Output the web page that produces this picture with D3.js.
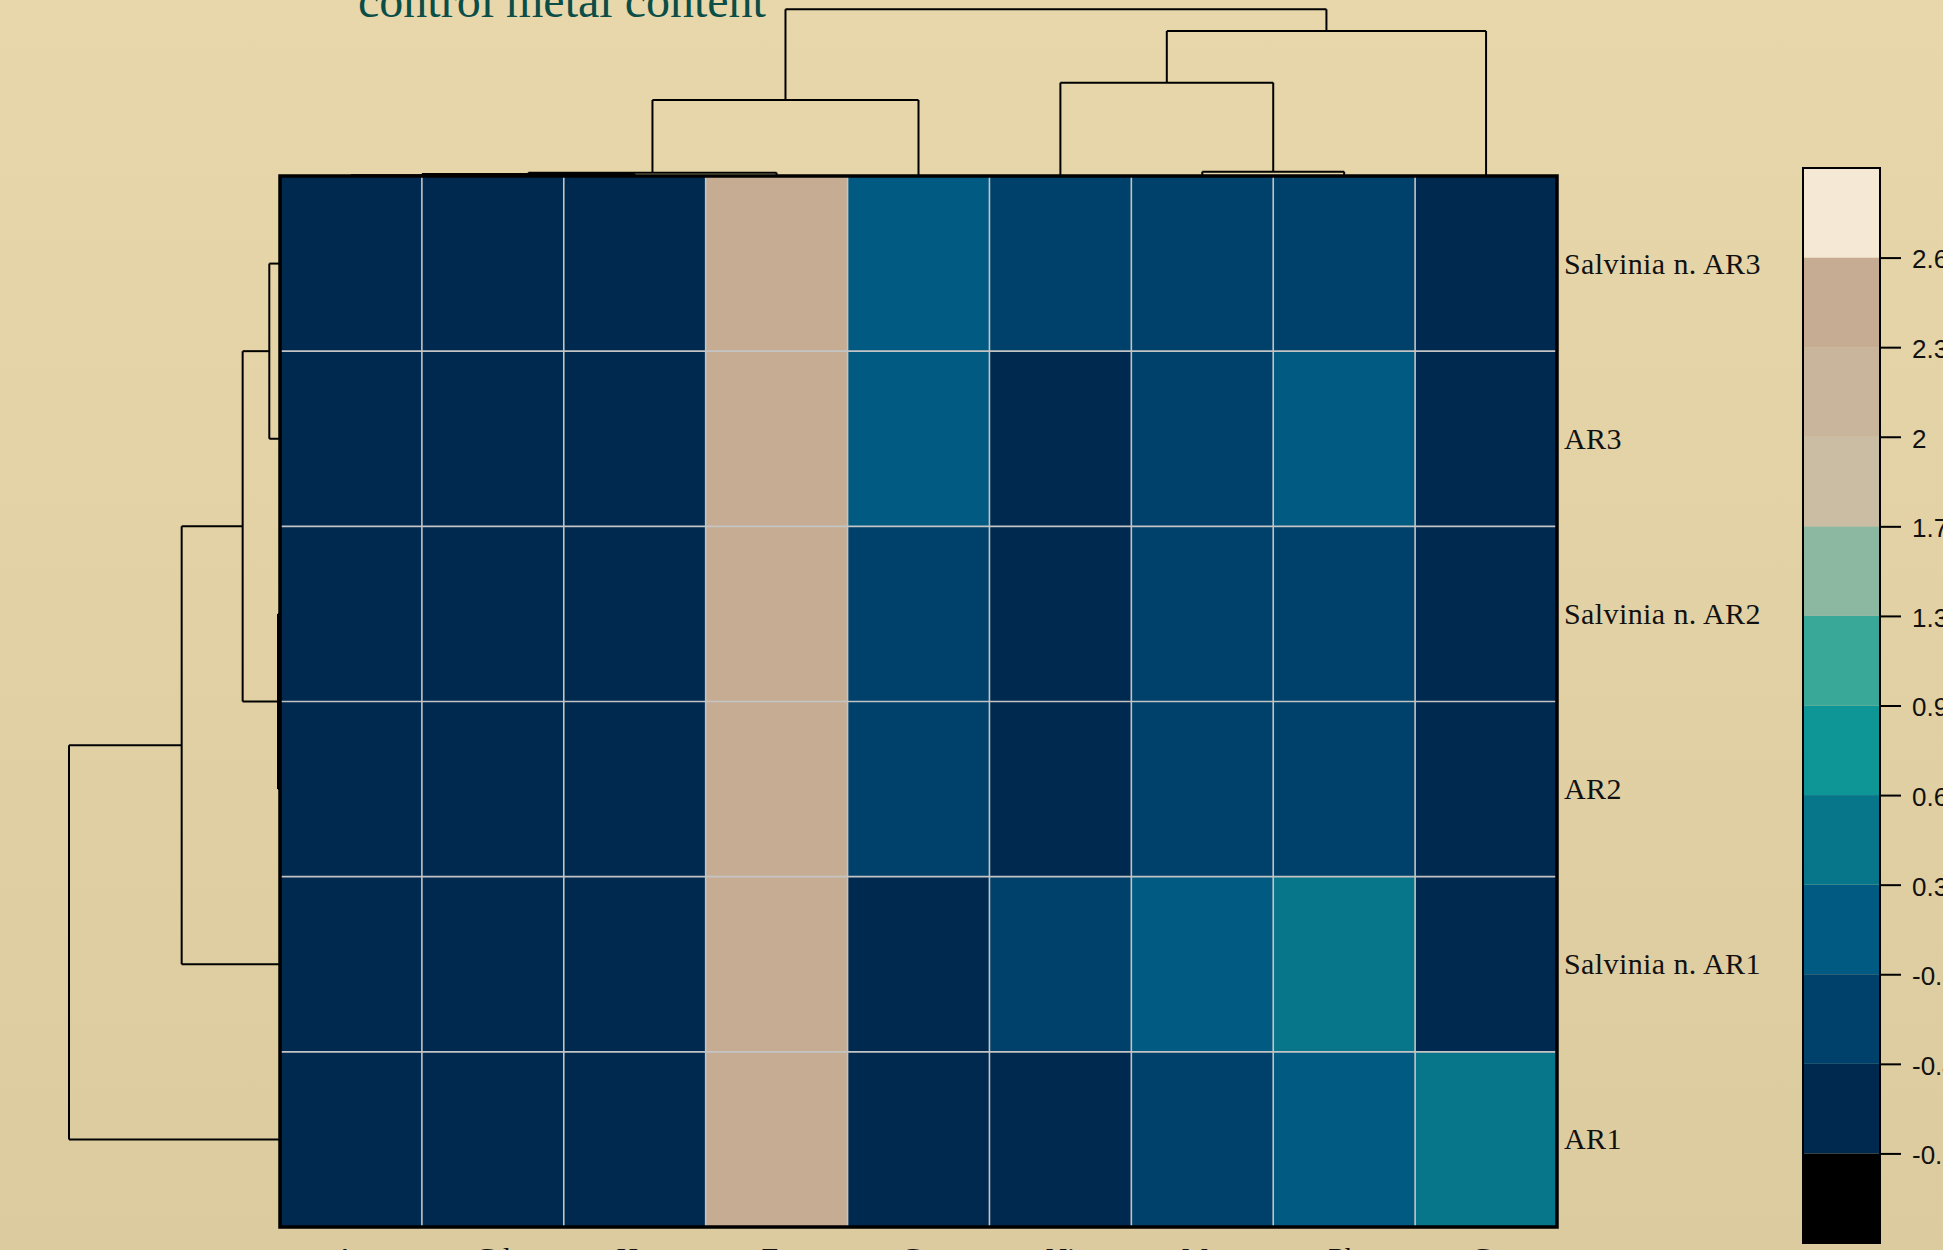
<!DOCTYPE html>
<html>
<head>
<meta charset="utf-8">
<script src="https://cdn.jsdelivr.net/npm/d3@7"></script>
<style>
  html, body { margin: 0; padding: 0; overflow: hidden; }
  svg { display: block; }
</style>
</head>
<body>
<svg id="chart" width="1943" height="1250"></svg>
<script>
// Samples (rows, top to bottom) and metals (columns, left to right)
const rowLabels = ["Salvinia n. AR3", "AR3", "Salvinia n. AR2", "AR2", "Salvinia n. AR1", "AR1"];
const colLabels = ["As", "Cd", "Hg", "Fe", "Cu", "Ni", "Mn", "Pb", "Cr"];

// Row-scaled metal content
const rowSalviniaAR3 = [-0.42, -0.43, -0.42, 2.55, -0.05, -0.30, -0.25, -0.28, -0.41];
const rowAR3         = [-0.42, -0.42, -0.42, 2.50,  0.00, -0.45, -0.30, -0.05, -0.42];
const rowSalviniaAR2 = [-0.43, -0.43, -0.42, 2.56, -0.25, -0.46, -0.30, -0.28, -0.42];
const rowAR2         = [-0.42, -0.42, -0.42, 2.55, -0.22, -0.46, -0.28, -0.27, -0.42];
const rowSalviniaAR1 = [-0.42, -0.43, -0.42, 2.45, -0.45, -0.30,  0.10,  0.45, -0.42];
const rowAR1         = [-0.42, -0.42, -0.42, 2.40, -0.44, -0.46, -0.25,  0.05,  0.42];
const matrix = [rowSalviniaAR3, rowAR3, rowSalviniaAR2, rowAR2, rowSalviniaAR1, rowAR1];

// Colour key: break points and their colours (low to high)
const keyBreaks = [-1.0, -0.7, -0.4, -0.1, 0.3, 0.6, 0.9, 1.3, 1.7, 2.0, 2.3, 2.6, 2.9];
const keyTickLabels = ["-0.7", "-0.4", "-0.1", "0.3", "0.6", "0.9", "1.3", "1.7", "2", "2.3", "2.6"];
const keyColors = ["#000000", "#00294f", "#00416b", "#005a82", "#08768a", "#0e9595",
                   "#3aa898", "#8cb7a1", "#cbbda3", "#c9b59b", "#c6ac93", "#f5e8d5"];

// Dendrogram merge heights (arbitrary distance units)
const rowTree = { h: 10, children: [
  { h: 4.66, children: [
    { h: 1.77, children: [
      { h: 0.507, children: [{ leaf: 0 }, { leaf: 1 }] },
      { h: 0.095, children: [{ leaf: 2 }, { leaf: 3 }] }
    ] },
    { leaf: 4 }
  ] },
  { leaf: 5 }
] };
const colTree = { h: 10, children: [
  { h: 4.56, children: [
    { h: 0.2, children: [
      { h: 0.12, children: [
        { h: 0.05, children: [{ leaf: 0 }, { leaf: 1 }] },
        { leaf: 2 }
      ] },
      { leaf: 3 }
    ] },
    { leaf: 4 }
  ] },
  { h: 8.7, children: [
    { h: 5.6, children: [
      { leaf: 5 },
      { h: 0.26, children: [{ leaf: 6 }, { leaf: 7 }] }
    ] },
    { leaf: 8 }
  ] }
] };

const svg = d3.select("#chart");
const W = 1943, H = 1250;

// Background
const defs = svg.append("defs");
const grad = defs.append("linearGradient").attr("id", "bg").attr("x1", 0).attr("y1", 0).attr("x2", 0).attr("y2", 1);
grad.append("stop").attr("offset", "0%").attr("stop-color", "#e7d7aa");
grad.append("stop").attr("offset", "100%").attr("stop-color", "#dccb9e");
svg.append("rect").attr("width", W).attr("height", H).attr("fill", "url(#bg)");

// Heatmap geometry
const hm = { left: 280, right: 1557, top: 176, bottom: 1227 };
const x = d3.scaleBand().domain(d3.range(colLabels.length)).range([hm.left, hm.right]).padding(0);
const y = d3.scaleBand().domain(d3.range(rowLabels.length)).range([hm.top, hm.bottom]).padding(0);
const color = d3.scaleThreshold().domain(keyBreaks.slice(1, -1)).range(keyColors);

const cells = [];
matrix.forEach((row, r) => row.forEach((v, c) => cells.push({ r, c, v })));

svg.append("g").selectAll("rect").data(cells).join("rect")
  .attr("x", d => x(d.c)).attr("y", d => y(d.r))
  .attr("width", x.bandwidth()).attr("height", y.bandwidth())
  .attr("fill", d => color(d.v));

// Grid lines between cells
const grid = svg.append("g").attr("stroke", "#c4c4c4").attr("stroke-width", 1.6);
d3.range(1, colLabels.length).forEach(i => {
  grid.append("line").attr("x1", x(i)).attr("x2", x(i)).attr("y1", hm.top).attr("y2", hm.bottom);
});
d3.range(1, rowLabels.length).forEach(i => {
  grid.append("line").attr("x1", hm.left).attr("x2", hm.right).attr("y1", y(i)).attr("y2", y(i));
});

// Dendrograms
function layout(node, pos) {
  if (node.leaf !== undefined) { node.p = pos(node.leaf); node.h = 0; return; }
  node.children.forEach(ch => layout(ch, pos));
  node.p = (node.children[0].p + node.children[1].p) / 2;
}
function segments(node, out) {
  if (!node.children) return out;
  const [a, b] = node.children;
  out.push([a.p, a.h, a.p, node.h], [a.p, node.h, b.p, node.h], [b.p, node.h, b.p, b.h]);
  segments(a, out); segments(b, out);
  return out;
}

layout(colTree, i => x(i) + x.bandwidth() / 2);
layout(rowTree, i => y(i) + y.bandwidth() / 2);
const colH = d3.scaleLinear().domain([0, 10]).range([hm.top, 9.3]);
const rowH = d3.scaleLinear().domain([0, 10]).range([hm.left, 69]);

svg.append("g").attr("stroke", "#000").attr("stroke-width", 2).attr("fill", "none")
  .selectAll("line").data(segments(colTree, [])).join("line")
  .attr("x1", d => d[0]).attr("y1", d => colH(d[1]))
  .attr("x2", d => d[2]).attr("y2", d => colH(d[3]));

svg.append("g").attr("stroke", "#000").attr("stroke-width", 2).attr("fill", "none")
  .selectAll("line").data(segments(rowTree, [])).join("line")
  .attr("x1", d => rowH(d[1])).attr("y1", d => d[0])
  .attr("x2", d => rowH(d[3])).attr("y2", d => d[2]);

// Heatmap frame
svg.append("rect")
  .attr("x", hm.left).attr("y", hm.top)
  .attr("width", hm.right - hm.left).attr("height", hm.bottom - hm.top)
  .attr("fill", "none").attr("stroke", "#000").attr("stroke-width", 3.5);

// Row labels
svg.append("g").selectAll("text").data(rowLabels).join("text")
  .attr("x", hm.right + 7).attr("y", (d, i) => y(i) + y.bandwidth() / 2 + 10)
  .attr("font-family", "'Liberation Serif', 'Times New Roman', serif")
  .attr("font-size", 30).attr("letter-spacing", 0.4).attr("fill", "#111")
  .text(d => d);

// Column labels
svg.append("g").selectAll("text").data(colLabels).join("text")
  .attr("x", (d, i) => x(i) + x.bandwidth() / 2).attr("y", 1268)
  .attr("text-anchor", "middle")
  .attr("font-family", "'Liberation Serif', 'Times New Roman', serif")
  .attr("font-size", 30).attr("fill", "#111")
  .text(d => d);

// Title
svg.append("text")
  .attr("x", 562).attr("y", 17)
  .attr("text-anchor", "middle")
  .attr("font-family", "'Liberation Serif', 'Times New Roman', serif")
  .attr("font-size", 48).attr("fill", "#0b4e48")
  .text("control metal content");

// Colour key
const key = { left: 1803, right: 1880, top: 168, bottom: 1243 };
const keyY = d3.scaleLinear().domain([0, keyColors.length]).range([key.bottom, key.top]);
const keyG = svg.append("g");
keyG.selectAll("rect").data(keyColors).join("rect")
  .attr("x", key.left).attr("width", key.right - key.left)
  .attr("y", (d, i) => keyY(i + 1)).attr("height", (d, i) => keyY(i) - keyY(i + 1))
  .attr("fill", d => d);
keyG.append("rect")
  .attr("x", key.left).attr("y", key.top)
  .attr("width", key.right - key.left).attr("height", key.bottom - key.top)
  .attr("fill", "none").attr("stroke", "#000").attr("stroke-width", 2);

const keyAxis = d3.axisRight(keyY)
  .tickValues(d3.range(1, keyColors.length))
  .tickFormat(i => keyTickLabels[i - 1])
  .tickSize(21).tickPadding(11);
const axG = keyG.append("g").attr("transform", `translate(${key.right},0)`).call(keyAxis);
axG.select(".domain").remove();
axG.selectAll(".tick line").attr("stroke", "#000").attr("stroke-width", 2);
axG.selectAll(".tick text")
  .attr("dy", "0.4em")
  .attr("font-family", "'Liberation Sans', Arial, sans-serif")
  .attr("font-size", 26).attr("fill", "#111");
</script>
</body>
</html>
